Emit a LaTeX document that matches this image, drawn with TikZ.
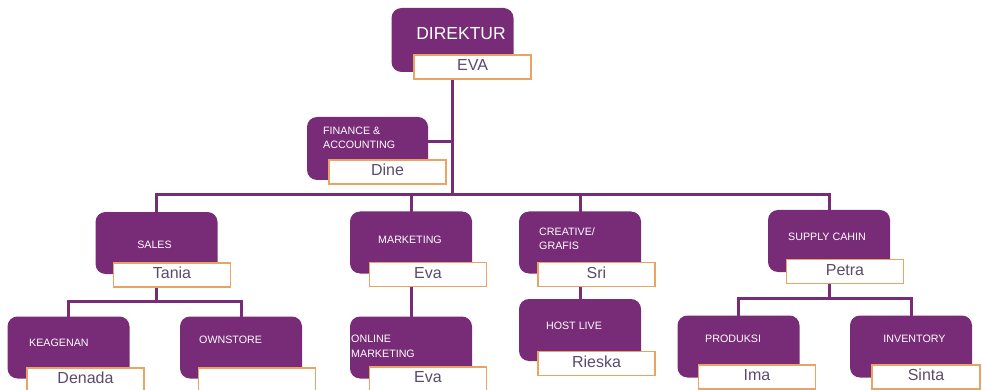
\documentclass[tikz,border=0pt]{standalone}
\usepackage{fontspec}
\setmainfont{Liberation Sans}
\usetikzlibrary{backgrounds}
\definecolor{plum}{HTML}{782B76}
\definecolor{borange}{HTML}{E8A463}
\definecolor{nametxt}{HTML}{5C4A6C}
\begin{document}
\begin{tikzpicture}[x=1pt,y=-1pt,
  unit/.style={fill=plum, rounded corners=10pt, minimum width=122pt, minimum height=62pt, inner sep=0pt, outer sep=0pt},
  namebox/.style={draw=borange, line width=1.6pt, fill=white, minimum width=117pt, minimum height=24pt,
    inner sep=0pt, outer sep=0pt, text=nametxt, font=\fontsize{16}{16}\selectfont,
    text height=11.5pt, text depth=4.1pt},
  lbl/.style={text=white, font=\fontsize{10.7}{14}\selectfont, inner sep=0pt, align=left},
  conn/.style={draw=plum, line width=3pt}]
\useasboundingbox (0,0) rectangle (982,390);
\clip (0,0) rectangle (982,390);

% purple unit boxes
\node[unit, minimum height=64pt] (dir) at (452.5,40) {};
\node[unit, minimum height=63pt, minimum width=121pt] (fin) at (367.5,148.5) {};
\node[unit] (sales) at (156.5,243) {};
\node[unit] (mkt) at (411,242.5) {};
\node[unit] (cre) at (580,242.5) {};
\node[unit] (sup) at (829,241) {};
\node[unit] (kea) at (68.5,347.5) {};
\node[unit] (own) at (241,347.5) {};
\node[unit] (onl) at (411,347.5) {};
\node[unit] (host) at (580,330) {};
\node[unit] (prod) at (738.5,346.5) {};
\node[unit] (inv) at (911,346.5) {};

% labels
\node[lbl, font=\fontsize{17.5}{17.5}\selectfont] (ldir) at (461,34) {DIREKTUR};
\node[lbl, anchor=west] (lfin) at (323,138) {FINANCE \&\\ACCOUNTING};
\node[lbl] (lsales) at (154.5,244.5) {SALES};
\node[lbl] (lmkt) at (410,240) {MARKETING};
\node[lbl, anchor=west] (lcre) at (539,239) {CREATIVE/\\GRAFIS};
\node[lbl] (lsup) at (827,237) {SUPPLY CAHIN};
\node[lbl, anchor=west] (lkea) at (29,343) {KEAGENAN};
\node[lbl, anchor=west] (lown) at (199,340) {OWNSTORE};
\node[lbl, anchor=west, font=\fontsize{10.7}{15}\selectfont] (lonl) at (351,346.5) {ONLINE\\MARKETING};
\node[lbl] (lhost) at (574,326) {HOST LIVE};
\node[lbl, anchor=west] (lprod) at (705,339) {PRODUKSI};
\node[lbl] (linv) at (914.5,339) {INVENTORY};

% name boxes
\node[namebox] (ndir) at (472.5,67) {EVA};
\node[namebox] (nfin) at (387.5,172) {Dine};
\node[namebox] (nsales) at (172,275) {Tania};
\node[namebox] (nmkt) at (428,274.5) {Eva};
\node[namebox] (ncre) at (596.5,274.5) {Sri};
\node[namebox] (nsup) at (845,271.5) {Petra};
\node[namebox] (nkea) at (85.5,380) {Denada};
\node[namebox] (nown) at (257,380) {};
\node[namebox] (nonl) at (428,379) {Eva};
\node[namebox] (nhost) at (596.5,363.5) {Rieska};
\node[namebox] (nprod) at (757,377) {Ima};
\node[namebox, minimum width=108pt] (ninv) at (926,377) {Sinta};

% connectors
\coordinate (bus) at (0,195);
\coordinate (salesbus) at (0,301);
\coordinate (supbus) at (0,298);
\begin{pgfonlayer}{background}
  \draw[conn] (dir.center) -- (dir.center |- bus);
  \draw[conn] ([yshift=6.5pt]fin.center) -- ([yshift=6.5pt]fin.center -| dir.center);
  \draw[conn] (sales.center) -- (sales.center |- bus) -- (sup.center |- bus) -- (sup.center);
  \draw[conn] (mkt.center) -- (mkt.center |- bus);
  \draw[conn] (cre.center) -- (cre.center |- bus);
  \draw[conn] (sales.center) -- (sales.center |- salesbus);
  \draw[conn] (kea.center) -- (kea.center |- salesbus) -- (own.center |- salesbus) -- (own.center);
  \draw[conn] (mkt.center) -- (onl.center);
  \draw[conn] (cre.center) -- (host.center);
  \draw[conn] (sup.center) -- (sup.center |- supbus);
  \draw[conn] (prod.center) -- (prod.center |- supbus) -- (inv.center |- supbus) -- (inv.center);
\end{pgfonlayer}
\end{tikzpicture}
\end{document}
